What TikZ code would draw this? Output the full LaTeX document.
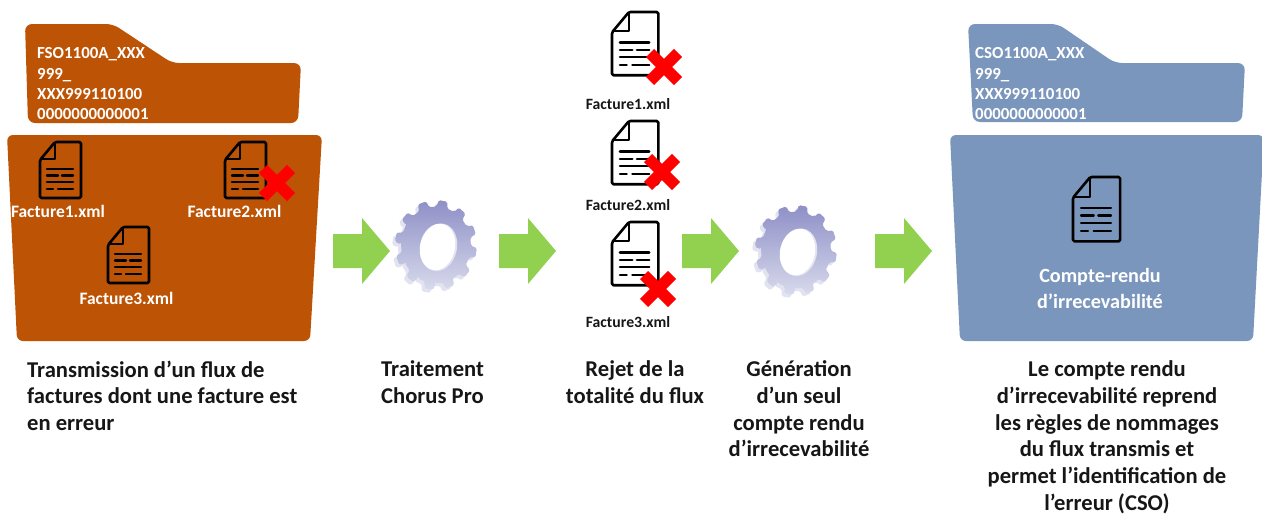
\documentclass[tikz,border=0pt]{standalone}
\usepackage{fontspec}
\setmainfont{Carlito}
\definecolor{orangef}{HTML}{BC5305}
\definecolor{bluef}{HTML}{7B96BC}
\definecolor{greena}{HTML}{92D050}
\definecolor{gearTop}{HTML}{8E8FC6}
\definecolor{gearBot}{HTML}{D8DAEC}
\definecolor{gearSide}{HTML}{E2E3F1}
\definecolor{inkk}{HTML}{161616}
\tikzset{
  x=1pt,y=-1pt,
  caption/.style={inner sep=0pt,anchor=north,font=\fontsize{22.6}{26.8}\selectfont\bfseries,text=inkk},
  folderlabel/.style={inner sep=0pt,anchor=north west,align=left,text=white,font=\fontsize{16.9}{20.4}\selectfont\bfseries},
  docname/.style={inner sep=0pt,text=white,font=\fontsize{17.5}{18}\selectfont\bfseries},
  rejname/.style={inner sep=0pt,text=inkk,font=\fontsize{15.7}{16}\selectfont\bfseries},
  docline/.style={line width=2.4pt,black,line cap=round,line join=round},
  greenarrow/.style={fill=greena,draw=none},
}
\newcommand{\docicon}[4]{% x y scale fill
  \begin{scope}[shift={(#1,#2)},scale=#3]
    \path[#4,draw=black,line width=2.6pt,line join=round,rounded corners=1.5pt]
      (15,0) -- (41,0) -- (41,56) -- (0,56) -- (0,18) -- cycle;
    \draw[docline,line width=2pt] (15,1) -- (15,17) -- (1,17);
    \draw[docline] (7,27) -- (33,27);
    \draw[docline] (7,33.5) -- (18,33.5) (22,33.5) -- (33,33.5);
    \draw[docline] (7,40) -- (33,40);
    \draw[docline] (7,47) -- (13,47) (18,47) -- (33,47);
  \end{scope}}
\newcommand{\redcross}[2]{%
  \draw[red,line width=11.5pt] (#1-14,#2-14) -- (#1+14,#2+14) (#1-14,#2+14) -- (#1+14,#2-14);}
\newcommand{\rarrow}[2]{%
  \fill[greenarrow] (#1,#2-17) -- (#1+29,#2-17) -- (#1+29,#2-33) -- (#1+57,#2) -- (#1+29,#2+33) -- (#1+29,#2+17) -- (#1,#2+17) -- cycle;}
\newcommand{\gearshape}{%
  (1:35 and 38.5)
  \foreach \a in {10,40,...,340}{
    -- (\a-9:35 and 38.5) -- (\a-6:41 and 45) -- (\a+6:41 and 45) -- (\a+9:35 and 38.5) -- (\a+21:35 and 38.5)
  } -- cycle}
\newcommand{\gearicon}[2]{%
  \begin{scope}[shift={(#1,#2)}]
    \fill[gearSide,rounded corners=1.5pt,shift={(-2,2)}] \gearshape;
    \shade[top color=gearTop,bottom color=gearBot,rounded corners=1.5pt,shift={(1,-1)}] \gearshape;
    \begin{scope}[shift={(2.5,1)},rotate=-12]
      \fill[gearSide] (1.5,0) ellipse [x radius=18,y radius=24];
      \fill[white] (0,0) ellipse [x radius=17.5,y radius=23.5];
    \end{scope}
  \end{scope}}
\begin{document}
\begin{tikzpicture}
\useasboundingbox (0,0) rectangle (1262,514);
% left folder
\fill[orangef,rounded corners=7pt] (25,24) -- (113,24) -- (172,63) -- (301,63) -- (298,123) -- (28,123) -- cycle;
\fill[orangef,rounded corners=6pt] (7,135) -- (322,135) -- (310,341) -- (17,341) -- cycle;
\node[folderlabel] (ftab) at (37,47.5) {FSO1100A\_XXX\\999\_\\XXX999110100\\0000000000001};
\docicon{40}{142}{1}{fill=none}
\docicon{225}{142}{1}{fill=none}
\docicon{108}{227}{1}{fill=none}
\redcross{277}{183}
\node[docname] (f1) at (58,211) {Facture1.xml};
\node[docname] (f2) at (234.5,211) {Facture2.xml};
\node[docname] (f3) at (126.5,298) {Facture3.xml};
% arrows and gears
\rarrow{333}{251}
\gearicon{435}{246}
\rarrow{499}{251}
\rarrow{682}{251}
\gearicon{795}{251}
\rarrow{875}{251}
% rejected docs
\docicon{612}{12}{1.13}{fill=white}
\redcross{664}{67}
\node[rejname] (r1) at (628,104) {Facture1.xml};
\docicon{612}{121}{1.13}{fill=white}
\redcross{662}{172}
\node[rejname] (r2) at (628,205) {Facture2.xml};
\docicon{612}{222}{1.13}{fill=white}
\redcross{658}{289}
\node[rejname] (r3) at (628,322) {Facture3.xml};
% right folder
\fill[bluef,rounded corners=7pt] (968,24) -- (1058,24) -- (1115,63) -- (1245,63) -- (1242,122) -- (973,122) -- cycle;
\fill[bluef,rounded corners=6pt] (950,135) -- (1264,135) -- (1253,341) -- (960,341) -- cycle;
\node[folderlabel] (ctab) at (975,47.5) {CSO1100A\_XXX\\999\_\\XXX999110100\\0000000000001};
\docicon{1073}{177}{1.15}{fill=none}
\node[inner sep=0pt,anchor=north,align=center,text=white,font=\fontsize{20.2}{26}\selectfont\bfseries] (crt) at (1100,268) {Compte-rendu\\d’irrecevabilité};
% captions
\node[caption,align=left,anchor=north west] (c1) at (27,360.5) {Transmission d’un flux de\\factures dont une facture est\\en erreur};
\node[caption,align=left,anchor=north west] (c2) at (381,360.5) {Traitement\\Chorus Pro};
\node[caption,align=center] (c3) at (635,360.5) {Rejet de la\\totalité du flux};
\node[caption,align=center] (c4) at (799,360.5) {Génération\\d’un seul\\compte rendu\\d’irrecevabilité};
\node[caption,align=center] (c5) at (1107,360.5) {Le compte rendu\\d’irrecevabilité reprend\\les règles de nommages\\du flux transmis et\\permet l’identification de\\l’erreur (CSO)};
\end{tikzpicture}
\end{document}
